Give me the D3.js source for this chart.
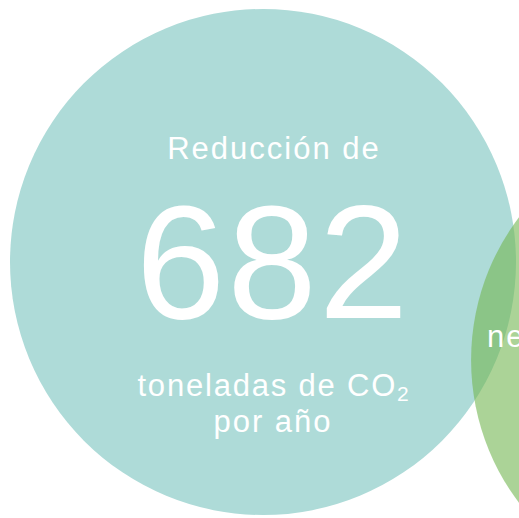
<!DOCTYPE html>
<html><head><meta charset="utf-8">
<script src="https://cdn.jsdelivr.net/npm/d3@7"></script>
<style>html,body{margin:0;padding:0;background:#fff;overflow:hidden}</style>
</head><body>
<svg id="c" width="519" height="518"></svg>
<script>
const bubbleNames = ["co2", "otro"];
const bubbleValues = [682, 598];
const bubbleColors = ["#aedbd8", "#73b651"];
const bubbleOpacity = [1, 0.6];
const headline = ["Reducción de", "682", "toneladas de CO", "por año"];
const otherLabel = ["ne"];

const svg = d3.select("#c");
const r = d3.scaleSqrt().domain([0, 682]).range([0, 253]);
const centers = [[263, 262], [708, 360]];

svg.selectAll("circle").data(bubbleValues).join("circle")
  .attr("cx", (d, i) => centers[i][0])
  .attr("cy", (d, i) => centers[i][1])
  .attr("r", d => r(d))
  .attr("fill", (d, i) => bubbleColors[i])
  .attr("fill-opacity", (d, i) => bubbleOpacity[i]);

const font = "'Liberation Sans', Arial, Helvetica, sans-serif";
const g = svg.append("g").attr("fill", "#fff").attr("font-family", font).attr("text-anchor", "middle");
g.append("text").attr("x", 274).attr("y", 159).attr("font-size", 31).attr("letter-spacing", 2).text(headline[0]);
g.append("text").attr("x", 273).attr("y", 318).attr("font-size", 161).attr("letter-spacing", 2).text(headline[1]);
const t = g.append("text").attr("x", 274).attr("y", 396).attr("font-size", 31).attr("letter-spacing", 1.8);
t.append("tspan").text(headline[2]);
t.append("tspan").attr("font-size", 21).attr("dy", 5).text("2");
g.append("text").attr("x", 273).attr("y", 432).attr("font-size", 31).attr("letter-spacing", 2).text(headline[3]);

svg.append("text").attr("x", 487).attr("y", 347).attr("fill", "#fff")
  .attr("font-family", font).attr("font-size", 31).attr("letter-spacing", 2).text(otherLabel[0]);
</script>
</body></html>
